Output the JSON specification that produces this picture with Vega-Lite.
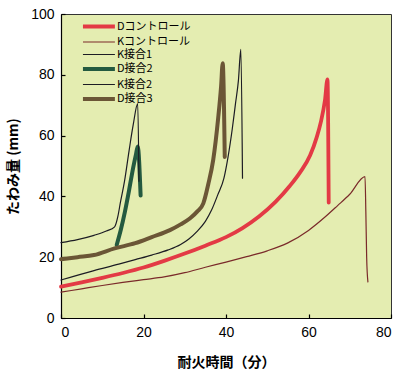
{
  "$schema": "https://vega.github.io/schema/vega-lite/v6.json",
  "width": 330,
  "height": 304,
  "autosize": "none",
  "padding": {"left": 61, "top": 14, "right": 9, "bottom": 56},
  "background": "white",
  "config": {
    "view": {"fill": "#e4edb1", "stroke": "#333333", "strokeWidth": 1},
    "axis": {
      "grid": false,
      "domainColor": "#000000",
      "domainWidth": 1.2,
      "tickColor": "#000000",
      "tickWidth": 1.2,
      "tickSize": -4,
      "labelFont": "Liberation Sans",
      "labelFontSize": 14,
      "labelColor": "#000000",
      "titleFont": "Noto Sans CJK JP",
      "titleFontSize": 14,
      "titleFontWeight": "bold",
      "titleColor": "#000000"
    },
    "legend": {
      "title": null, "orient": "none", "legendX": 42, "legendY": 6,
      "symbolType": "M-5.9,0H1.2", "symbolSize": 81,
      "labelFont": "Noto Sans CJK JP", "labelFontSize": 11, "labelColor": "#000000",
      "labelOffset": 1, "rowPadding": 0.5, "padding": 0
    }
  },
  "data": {
    "values": [
      {"s": "Dコントロール", "t": 0, "v": 10.3},
      {"s": "Dコントロール", "t": 5, "v": 11.7},
      {"s": "Dコントロール", "t": 10, "v": 13.2},
      {"s": "Dコントロール", "t": 15, "v": 14.8},
      {"s": "Dコントロール", "t": 20, "v": 16.6},
      {"s": "Dコントロール", "t": 25, "v": 18.8},
      {"s": "Dコントロール", "t": 30, "v": 21.2},
      {"s": "Dコントロール", "t": 35, "v": 23.8},
      {"s": "Dコントロール", "t": 40, "v": 26.6},
      {"s": "Dコントロール", "t": 44, "v": 29.6},
      {"s": "Dコントロール", "t": 48, "v": 33.4},
      {"s": "Dコントロール", "t": 52, "v": 38.2},
      {"s": "Dコントロール", "t": 55.5, "v": 43.5},
      {"s": "Dコントロール", "t": 58, "v": 48},
      {"s": "Dコントロール", "t": 60.4, "v": 53.5},
      {"s": "Dコントロール", "t": 62, "v": 59.5},
      {"s": "Dコントロール", "t": 63, "v": 64.5},
      {"s": "Dコントロール", "t": 64, "v": 71.7},
      {"s": "Dコントロール", "t": 64.6, "v": 78.5},
      {"s": "Dコントロール", "t": 64.9, "v": 38},

      {"s": "Kコントロール", "t": 0, "v": 8.5},
      {"s": "Kコントロール", "t": 5, "v": 9.6},
      {"s": "Kコントロール", "t": 10, "v": 10.7},
      {"s": "Kコントロール", "t": 15, "v": 11.7},
      {"s": "Kコントロール", "t": 20, "v": 12.6},
      {"s": "Kコントロール", "t": 25, "v": 13.5},
      {"s": "Kコントロール", "t": 30, "v": 14.9},
      {"s": "Kコントロール", "t": 35, "v": 16.7},
      {"s": "Kコントロール", "t": 40, "v": 18.4},
      {"s": "Kコントロール", "t": 45, "v": 20.2},
      {"s": "Kコントロール", "t": 50, "v": 22.1},
      {"s": "Kコントロール", "t": 55, "v": 24.7},
      {"s": "Kコントロール", "t": 60, "v": 28.8},
      {"s": "Kコントロール", "t": 64, "v": 33.2},
      {"s": "Kコントロール", "t": 67, "v": 36.9},
      {"s": "Kコントロール", "t": 70, "v": 40.7},
      {"s": "Kコントロール", "t": 73.7, "v": 46.5},
      {"s": "Kコントロール", "t": 73.9, "v": 35},
      {"s": "Kコントロール", "t": 74.1, "v": 20},
      {"s": "Kコントロール", "t": 74.4, "v": 11.9},

      {"s": "K接合1", "t": 0, "v": 12.5},
      {"s": "K接合1", "t": 8, "v": 15.6},
      {"s": "K接合1", "t": 14, "v": 17.7},
      {"s": "K接合1", "t": 18, "v": 19.2},
      {"s": "K接合1", "t": 22, "v": 20.7},
      {"s": "K接合1", "t": 26, "v": 22.4},
      {"s": "K接合1", "t": 29, "v": 24.2},
      {"s": "K接合1", "t": 31, "v": 26},
      {"s": "K接合1", "t": 33, "v": 28.5},
      {"s": "K接合1", "t": 35, "v": 31.8},
      {"s": "K接合1", "t": 36.5, "v": 35.5},
      {"s": "K接合1", "t": 38, "v": 40.5},
      {"s": "K接合1", "t": 39.5, "v": 46},
      {"s": "K接合1", "t": 40.5, "v": 53},
      {"s": "K接合1", "t": 41.5, "v": 62},
      {"s": "K接合1", "t": 42.3, "v": 70.5},
      {"s": "K接合1", "t": 43, "v": 78},
      {"s": "K接合1", "t": 43.6, "v": 88.4},
      {"s": "K接合1", "t": 44, "v": 46},

      {"s": "D接合2", "t": 13.5, "v": 24},
      {"s": "D接合2", "t": 14.5, "v": 29},
      {"s": "D接合2", "t": 15.5, "v": 35},
      {"s": "D接合2", "t": 16.5, "v": 42},
      {"s": "D接合2", "t": 17.5, "v": 49.5},
      {"s": "D接合2", "t": 18.2, "v": 54},
      {"s": "D接合2", "t": 18.6, "v": 56.4},
      {"s": "D接合2", "t": 19.3, "v": 40.3},

      {"s": "K接合2", "t": 0, "v": 24.8},
      {"s": "K接合2", "t": 4, "v": 25.8},
      {"s": "K接合2", "t": 8, "v": 27.2},
      {"s": "K接合2", "t": 11, "v": 28.6},
      {"s": "K接合2", "t": 13, "v": 30},
      {"s": "K接合2", "t": 13.8, "v": 33.5},
      {"s": "K接合2", "t": 14.4, "v": 38},
      {"s": "K接合2", "t": 15.4, "v": 45},
      {"s": "K接合2", "t": 16.5, "v": 55},
      {"s": "K接合2", "t": 17.5, "v": 63.5},
      {"s": "K接合2", "t": 18.6, "v": 70.5},
      {"s": "K接合2", "t": 18.9, "v": 45},

      {"s": "D接合3", "t": 0, "v": 19.3},
      {"s": "D接合3", "t": 4, "v": 20},
      {"s": "D接合3", "t": 8, "v": 20.7},
      {"s": "D接合3", "t": 13, "v": 22.9},
      {"s": "D接合3", "t": 18, "v": 24.6},
      {"s": "D接合3", "t": 22, "v": 26.6},
      {"s": "D接合3", "t": 26.4, "v": 28.9},
      {"s": "D接合3", "t": 29, "v": 30.8},
      {"s": "D接合3", "t": 31.3, "v": 32.8},
      {"s": "D接合3", "t": 33, "v": 35},
      {"s": "D接合3", "t": 34.5, "v": 37.7},
      {"s": "D接合3", "t": 35.7, "v": 44},
      {"s": "D接合3", "t": 36.9, "v": 52},
      {"s": "D接合3", "t": 38.1, "v": 65.7},
      {"s": "D接合3", "t": 38.8, "v": 76},
      {"s": "D接合3", "t": 39.2, "v": 83.8},
      {"s": "D接合3", "t": 39.7, "v": 53}
    ]
  },
  "mark": {"type": "line", "strokeCap": "round", "strokeJoin": "round", "interpolate": "monotone"},
  "encoding": {
    "x": {
      "field": "t", "type": "quantitative",
      "scale": {"domain": [0, 80], "nice": false},
      "axis": {"values": [0, 20, 40, 60, 80], "title": "耐火時間（分）", "labelPadding": 11, "titlePadding": 16}
    },
    "y": {
      "field": "v", "type": "quantitative",
      "scale": {"domain": [0, 100], "nice": false},
      "axis": {"values": [0, 20, 40, 60, 80, 100], "title": "たわみ量 (mm)", "labelPadding": 11, "titlePadding": 10}
    },
    "color": {
      "field": "s", "type": "nominal",
      "scale": {
        "domain": ["Dコントロール", "Kコントロール", "K接合1", "D接合2", "K接合2", "D接合3"],
        "range": ["#e33a45", "#7a2a2a", "#1c1c24", "#245a40", "#1c1c24", "#6b5636"]
      }
    },
    "strokeWidth": {
      "field": "s", "type": "nominal",
      "scale": {
        "type": "ordinal",
        "domain": ["Dコントロール", "Kコントロール", "K接合1", "D接合2", "K接合2", "D接合3"],
        "range": [3.8, 1.2, 1.2, 4, 1.2, 4]
      }
    }
  }
}
